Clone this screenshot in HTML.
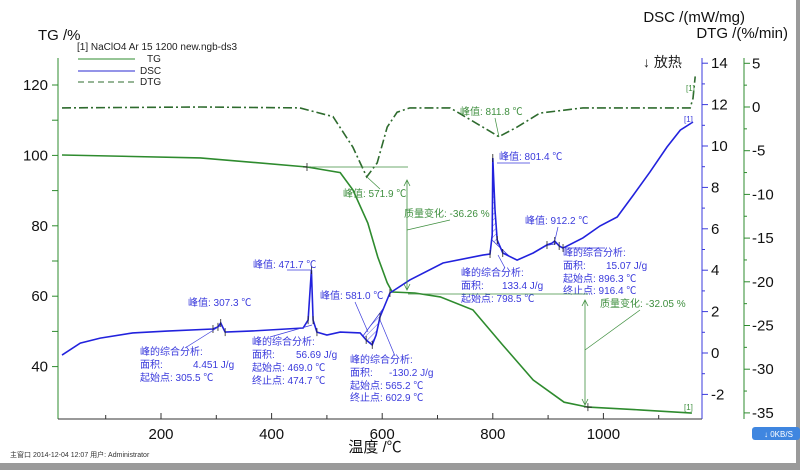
<!DOCTYPE html>
<html><head><meta charset="utf-8">
<style>
html,body{margin:0;padding:0;background:#fff;}
svg{display:block;font-family:"Liberation Sans","Noto Sans CJK SC",sans-serif;}
.ann{font-size:10px;fill:#3a3adc;}
.gann{font-size:10px;fill:#3f8f3f;}
.ax{font-size:15px;fill:#111;}
</style></head>
<body>
<svg id="chart" width="800" height="470" viewBox="0 0 800 470" xmlns="http://www.w3.org/2000/svg">
<defs>
<pattern id="hatch" width="4" height="4" patternUnits="userSpaceOnUse" patternTransform="rotate(45)">
<line x1="0" y1="0" x2="0" y2="4" stroke="#3a3adc" stroke-width="0.8"/></pattern>
</defs>
<rect x="796" y="0" width="4" height="470" fill="#9a9a9a"/>
<rect x="0" y="463" width="800" height="7" fill="#9a9a9a"/>
<g id="axes"></g>
<g id="marks"></g>
<g id="annos">
<text x="38" y="40" class="ax">TG /%</text>
<text x="745" y="22" class="ax" text-anchor="end">DSC /(mW/mg)</text>
<text x="788" y="38" class="ax" text-anchor="end">DTG /(%/min)</text>
<text x="643" y="67" style="font-size:14px" fill="#222">↓ 放热</text>
<text x="77" y="50" style="font-size:10px" fill="#222">[1] NaClO4 Ar 15 1200 new.ngb-ds3</text>
<g><line x1="78" y1="59" x2="135" y2="59" stroke="#2e8b2e"/><text x="147" y="62" style="font-size:10px" fill="#222">TG</text></g>
<g><line x1="78" y1="71" x2="135" y2="71" stroke="#2a2ad0"/><text x="140" y="74" style="font-size:10px" fill="#222">DSC</text></g>
<g><line x1="78" y1="82" x2="135" y2="82" stroke="#2e6b2e" stroke-dasharray="6,4"/><text x="140" y="85" style="font-size:10px" fill="#222">DTG</text></g>
<text x="375" y="452" style="font-size:15px" fill="#111" text-anchor="middle">温度 /℃</text>
<text x="10" y="457" style="font-size:7px" fill="#333">主窗口   2014-12-04 12:07   用户: Administrator</text>
<g><rect x="752" y="427" width="48" height="13" rx="3" fill="#3f86e0"/><text x="764" y="437" style="font-size:8px" fill="#fff">↓  0KB/S</text></g>

<text x="686" y="91" style="font-size:8px" fill="#3f8f3f">[1]</text>
<text x="684" y="122" style="font-size:8px" fill="#3a3adc">[1]</text>
<text x="684" y="410" style="font-size:8px" fill="#3f8f3f">[1]</text>

<g class="ann">
<text x="188" y="306">峰值: 307.3 ℃</text>
<text x="140" y="355">峰的综合分析:</text><text x="140" y="368">面积:</text><text x="193" y="368">4.451 J/g</text>
<text x="140" y="381">起始点: 305.5 ℃</text>
<line x1="185" y1="348" x2="220" y2="326" stroke="#3a3adc" stroke-width="0.7"/></g>
<g class="ann">
<text x="253" y="268">峰值: 471.7 ℃</text><line x1="287" y1="270" x2="312" y2="270" stroke="#3a3adc" stroke-width="0.7"/>
<text x="252" y="345">峰的综合分析:</text><text x="252" y="358">面积:</text><text x="296" y="358">56.69 J/g</text>
<text x="252" y="371">起始点: 469.0 ℃</text><text x="252" y="384">终止点: 474.7 ℃</text>
<line x1="270" y1="337" x2="312" y2="325" stroke="#3a3adc" stroke-width="0.7"/></g>
<g class="ann">
<text x="320" y="299">峰值: 581.0 ℃</text>
<line x1="355" y1="302" x2="368" y2="332" stroke="#3a3adc" stroke-width="0.7"/>
<text x="350" y="363">峰的综合分析:</text><text x="350" y="376">面积:</text><text x="389" y="376">-130.2 J/g</text>
<text x="350" y="389">起始点:  565.2 ℃</text><text x="350" y="401">终止点:  602.9 ℃</text>
<line x1="395" y1="356" x2="380" y2="320" stroke="#3a3adc" stroke-width="0.7"/></g>
<g class="ann">
<text x="499" y="160">峰值: 801.4 ℃</text><line x1="497" y1="163" x2="530" y2="163" stroke="#3a3adc" stroke-width="0.7"/>
<text x="461" y="276">峰的综合分析:</text><text x="461" y="289">面积:</text><text x="502" y="289">133.4 J/g</text>
<text x="461" y="302">起始点: 798.5 ℃</text>
<line x1="505" y1="268" x2="498" y2="255" stroke="#3a3adc" stroke-width="0.7"/></g>
<g class="ann">
<text x="525" y="224">峰值: 912.2 ℃</text>
<line x1="558" y1="227" x2="555" y2="240" stroke="#3a3adc" stroke-width="0.7"/>
<text x="563" y="256">峰的综合分析:</text><text x="563" y="269">面积:</text><text x="606" y="269">15.07 J/g</text>
<text x="563" y="282">起始点: 896.3 ℃</text><text x="563" y="294">终止点: 916.4 ℃</text>
<line x1="565" y1="248" x2="605" y2="248" stroke="#3a3adc" stroke-width="0.7"/></g>
<g class="gann">
<text x="343" y="197">峰值: 571.9 ℃</text><line x1="367" y1="177" x2="380" y2="189" stroke="#3f8f3f" stroke-width="0.7"/></g>
<g class="gann">
<text x="460" y="115">峰值: 811.8 ℃</text><line x1="495" y1="118" x2="499" y2="137" stroke="#3f8f3f" stroke-width="0.7"/></g>
<g>
<line x1="307" y1="167" x2="408" y2="167" stroke="#3f8f3f" stroke-width="0.8"/>
<line x1="407" y1="180" x2="407" y2="290" stroke="#3f8f3f" stroke-width="0.8"/>
<path d="M404,186 L407,180 L410,186 M404,284 L407,290 L410,284" stroke="#3f8f3f" fill="none" stroke-width="0.8"/>
<line x1="407" y1="230" x2="450" y2="220" stroke="#3f8f3f" stroke-width="0.7"/>
<text x="404" y="217" class="gann">质量变化: -36.26 %</text></g>
<g>
<line x1="408" y1="294" x2="588" y2="294" stroke="#3f8f3f" stroke-width="0.8"/>
<line x1="585" y1="300" x2="585" y2="405" stroke="#3f8f3f" stroke-width="0.8"/>
<path d="M582,306 L585,300 L588,306 M582,399 L585,405 L588,399" stroke="#3f8f3f" fill="none" stroke-width="0.8"/>
<line x1="585" y1="350" x2="640" y2="310" stroke="#3f8f3f" stroke-width="0.7"/>
<text x="600" y="307" class="gann">质量变化: -32.05 %</text></g>
</g>
</svg>
<script>
// ---- data ----
const tgTemps = [21,271,464,524,547,574,592,609,618,659,705,764,818,873,929,972,1066,1160];
const tgValues = [100.1,99.3,96.7,95.1,90.2,80.8,71.1,63.8,61.2,60.9,59.8,56.1,46.1,36.2,29.9,28.5,27.7,26.8];
const dscTemps = [21,54,90,149,211,294,303,308,316,361,457,466,472,475,482,500,524,560,571,582,589,596,614,650,710,782,795,799,800,804,808,818,844,873,898,907,912,920,927,963,994,1025,1054,1084,1115,1139,1162];
const dscValues = [-0.1,0.48,0.72,0.97,1.06,1.16,1.26,1.45,1.01,1.06,1.21,1.59,4.01,1.59,1.01,0.87,1.01,0.97,0.63,0.39,0.87,1.74,2.9,3.53,4.35,4.73,4.78,5.7,9.42,6.91,5.46,4.83,4.49,4.83,5.22,5.31,5.41,5.17,5.07,5.56,6.14,6.57,7.63,8.74,9.95,10.77,11.16];
const dtgTemps = [21,271,451,511,547,572,591,609,627,650,723,782,811,844,885,963,1157,1162,1166];
const dtgValues = [-0.1,0,-0.1,-1.1,-4.6,-8.0,-6.4,-2.3,-0.6,-0.1,-0.1,-2.3,-3.4,-2.3,-0.7,-0.1,-0.1,1.0,3.5];
const xTicks = [200,400,600,800,1000];
const tgTicks = [120,100,80,60,40];
const dscTicks = [14,12,10,8,6,4,2,0,-2];
const dtgTicks = [5,0,-5,-10,-15,-20,-25,-30,-35];
const tgMarkers = [464,972];
const dscMarkers = [[294,303],[308,316],[466,472],[475,482],[571,582],[596,614],[795,800],[808,818],[898,912],[920,927]];

// ---- scales ----
const X = t => 161 + (t-200)*0.553;
const YT = v => 85 + (120-v)*3.52;
const YD = v => 353 - v*20.7;
const YG = v => 107 - v*8.74;
const NS='http://www.w3.org/2000/svg';
function mk(tag, attrs, parent){const e=document.createElementNS(NS,tag);for(const k in attrs)e.setAttribute(k,attrs[k]);parent.appendChild(e);return e;}
const axes=document.getElementById('axes'), marks=document.getElementById('marks');

// axes lines
let a=mk('line',{x1:58,y1:58,x2:58,y2:419,stroke:'#2e8b2e'},axes);


a=mk('line',{x1:58,y1:419,x2:702,y2:419,stroke:'#333'},axes);


a=mk('line',{x1:702,y1:58,x2:702,y2:419,stroke:'#3a3adc'},axes);


a=mk('line',{x1:744,y1:58,x2:744,y2:419,stroke:'#2e8b2e'},axes);



for(let t=100;t<=1100;t+=100){mk('line',{x1:X(t),y1:419,x2:X(t),y2:t%200?415:413,stroke:'#333'},axes);}
xTicks.forEach(t=>{const e=mk('text',{x:X(t),y:439,'text-anchor':'middle','class':'ax'},axes);e.textContent=t;

});
for(let v=40;v<=120;v+=10){mk('line',{x1:52,y1:YT(v),x2:58,y2:YT(v),stroke:'#2e8b2e'},axes);}
tgTicks.forEach(v=>{const e=mk('text',{x:48,y:YT(v)+5,'text-anchor':'end','class':'ax'},axes);e.textContent=v;

});
for(let v=-2;v<=14;v+=1){mk('line',{x1:702,y1:YD(v),x2:v%2?705:708,y2:YD(v),stroke:'#3a3adc'},axes);}
dscTicks.forEach(v=>{const e=mk('text',{x:711,y:YD(v)+5,'class':'ax'},axes);e.textContent=v;

});
for(let v=-35;v<=5;v+=2.5){mk('line',{x1:744,y1:YG(v),x2:(v%5)?747:750,y2:YG(v),stroke:'#2e8b2e'},axes);}
dtgTicks.forEach(v=>{const e=mk('text',{x:752,y:YG(v)+5,'class':'ax'},axes);e.textContent=v;

});

function path(ts,vs,ys){return ts.map((t,i)=>(i?'L':'M')+X(t).toFixed(1)+','+ys(vs[i]).toFixed(1)).join(' ');}
function interp(ts,vs,t){for(let i=1;i<ts.length;i++){if(t<=ts[i]){const f=(t-ts[i-1])/(ts[i]-ts[i-1]);return vs[i-1]+f*(vs[i]-vs[i-1]);}}return vs[vs.length-1];}

// hatched DSC peak areas
[[565,603],[798,830],[896,916]].forEach(r=>{
 const pts=dscTemps.map((t,i)=>[t,dscValues[i]]).filter(p=>p[0]>r[0]&&p[0]<r[1]);
 const v0=interp(dscTemps,dscValues,r[0]),v1=interp(dscTemps,dscValues,r[1]);
 let d='M'+X(r[0])+','+YD(v0)+' '+pts.map(p=>'L'+X(p[0])+','+YD(p[1])).join(' ')+' L'+X(r[1])+','+YD(v1)+' Z';
 const e=mk('path',{d:d,fill:'url(#hatch)',stroke:'#3a3adc','stroke-width':0.8},marks);
 
 
});

let p=mk('path',{d:path(dtgTemps,dtgValues,YG),fill:'none',stroke:'#2e6b2e','stroke-width':1.6,'stroke-dasharray':'9,3,2,3'},marks);


p=mk('path',{d:path(tgTemps,tgValues,YT),fill:'none',stroke:'#2e8b2e','stroke-width':1.6},marks);


p=mk('path',{d:path(dscTemps,dscValues,YD),fill:'none',stroke:'#2222dd','stroke-width':1.6},marks);



tgMarkers.forEach(t=>{const x=X(t),y=YT(interp(tgTemps,tgValues,t));
 const e=mk('path',{d:`M${x-4},${y}H${x+4}M${x},${y-4}V${y+4}`,stroke:'#222','stroke-width':0.8},marks);
 
 });
dscMarkers.flat().forEach(t=>{const x=X(t),y=YD(interp(dscTemps,dscValues,t));
 const e=mk('path',{d:`M${x},${y-4}V${y+4}`,stroke:'#222','stroke-width':0.8},marks);
 
 });
</script>
</body></html>
